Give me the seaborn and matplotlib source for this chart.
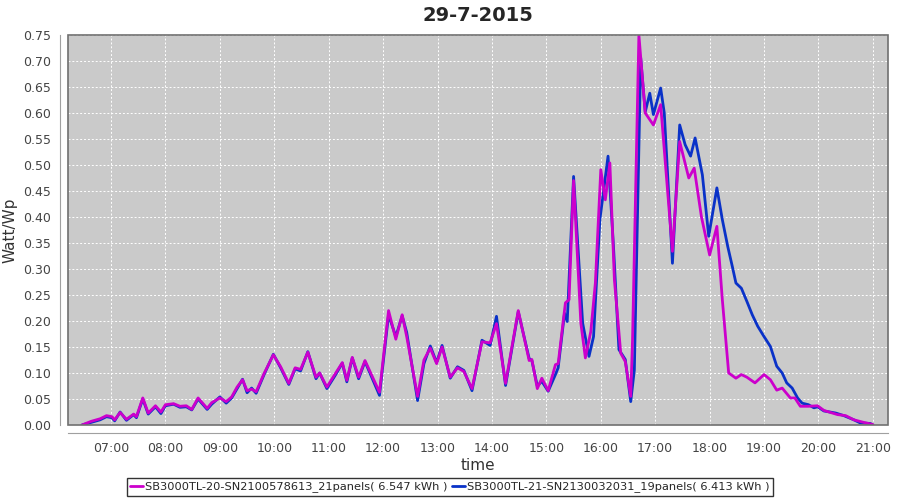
import numpy as np
import pandas as pd
import matplotlib
matplotlib.use("Agg")
import matplotlib.pyplot as plt
import matplotlib.dates as mdates
from matplotlib.patches import Rectangle
import seaborn as sns

day = "2015-07-29"
title = "29-7-2015"
name_20 = "SB3000TL-20-SN2100578613_21panels( 6.547 kWh )"
name_21 = "SB3000TL-21-SN2130032031_19panels( 6.413 kWh )"

# SB3000TL-20 (magenta)
times_20 = ["06:28", "06:38", "06:48", "06:55", "07:01", "07:04", "07:10", "07:17", "07:25", "07:28",
            "07:35", "07:41", "07:49", "07:55", "08:00", "08:09", "08:16", "08:23", "08:29", "08:36",
            "08:46", "08:51", "09:00", "09:07", "09:13", "09:19", "09:25", "09:30", "09:35", "09:40",
            "09:49", "09:59", "10:07", "10:16", "10:23", "10:29", "10:37", "10:46", "10:50", "10:58",
            "11:07", "11:15", "11:20", "11:26", "11:33", "11:40", "11:56", "12:06", "12:14", "12:21",
            "12:26", "12:38", "12:45", "12:52", "12:59", "13:05", "13:14", "13:22", "13:29", "13:38",
            "13:49", "13:58", "14:05", "14:15", "14:29", "14:41", "14:44", "14:50", "14:55", "15:02",
            "15:10", "15:13", "15:21", "15:25", "15:30", "15:38", "15:43", "15:49", "15:54", "16:00",
            "16:05", "16:10", "16:15", "16:22", "16:27", "16:33", "16:35", "16:42", "16:49", "16:58",
            "17:06", "17:19", "17:27", "17:37", "17:43", "17:51", "18:00", "18:08", "18:14", "18:21",
            "18:29", "18:35", "18:41", "18:50", "19:00", "19:07", "19:14", "19:20", "19:29", "19:34",
            "19:40", "19:49", "19:59", "20:06", "20:21", "20:30", "20:39", "20:50", "21:00"]
values_20 = [0.000, 0.007, 0.012, 0.018, 0.016, 0.010, 0.024, 0.011, 0.021, 0.016,
             0.052, 0.023, 0.037, 0.025, 0.039, 0.041, 0.036, 0.037, 0.030, 0.052,
             0.032, 0.043, 0.052, 0.045, 0.054, 0.073, 0.087, 0.066, 0.069, 0.064,
             0.100, 0.135, 0.112, 0.080, 0.110, 0.107, 0.140, 0.092, 0.100, 0.073,
             0.098, 0.120, 0.086, 0.130, 0.092, 0.124, 0.063, 0.220, 0.165, 0.212,
             0.170, 0.055, 0.125, 0.148, 0.118, 0.150, 0.092, 0.110, 0.103, 0.070,
             0.160, 0.158, 0.195, 0.080, 0.220, 0.124, 0.126, 0.070, 0.090, 0.066,
             0.116, 0.118, 0.235, 0.241, 0.470, 0.196, 0.129, 0.180, 0.273, 0.491,
             0.433, 0.504, 0.279, 0.138, 0.122, 0.055, 0.164, 0.750, 0.600, 0.577,
             0.616, 0.334, 0.545, 0.475, 0.494, 0.400, 0.327, 0.382, 0.241, 0.100,
             0.090, 0.097, 0.092, 0.081, 0.097, 0.087, 0.067, 0.071, 0.052, 0.052,
             0.036, 0.036, 0.037, 0.028, 0.020, 0.018, 0.010, 0.005, 0.001]

# SB3000TL-21 (blue)
times_21 = ["06:28", "06:38", "06:48", "06:55", "07:01", "07:04", "07:10", "07:17", "07:25", "07:28",
            "07:35", "07:41", "07:49", "07:55", "08:00", "08:09", "08:16", "08:23", "08:29", "08:36",
            "08:46", "08:51", "09:00", "09:07", "09:13", "09:19", "09:25", "09:30", "09:35", "09:40",
            "09:49", "09:59", "10:07", "10:16", "10:23", "10:29", "10:37", "10:46", "10:50", "10:58",
            "11:07", "11:15", "11:20", "11:26", "11:33", "11:40", "11:56", "12:06", "12:14", "12:21",
            "12:26", "12:38", "12:45", "12:52", "12:59", "13:05", "13:14", "13:22", "13:29", "13:38",
            "13:49", "13:58", "14:05", "14:15", "14:29", "14:41", "14:44", "14:50", "14:55", "15:02",
            "15:10", "15:13", "15:20", "15:23", "15:30", "15:40", "15:47", "15:52", "15:59", "16:08",
            "16:14", "16:20", "16:27", "16:33", "16:37", "16:44", "16:49", "16:54", "16:58", "17:06",
            "17:10", "17:19", "17:27", "17:33", "17:39", "17:44", "17:52", "17:59", "18:08", "18:14",
            "18:20", "18:25", "18:29", "18:35", "18:41", "18:47", "18:53", "19:00", "19:07", "19:14",
            "19:20", "19:25", "19:31", "19:37", "19:42", "19:49", "19:55", "19:59", "20:06", "20:19",
            "20:28", "20:39", "20:46", "20:57", "21:00"]
values_21 = [0.000, 0.005, 0.010, 0.016, 0.014, 0.008, 0.025, 0.009, 0.020, 0.014,
             0.050, 0.021, 0.035, 0.022, 0.037, 0.040, 0.034, 0.035, 0.029, 0.050,
             0.030, 0.040, 0.054, 0.042, 0.052, 0.070, 0.088, 0.062, 0.071, 0.061,
             0.098, 0.136, 0.110, 0.078, 0.108, 0.104, 0.141, 0.089, 0.100, 0.070,
             0.095, 0.119, 0.083, 0.129, 0.089, 0.122, 0.057, 0.212, 0.170, 0.210,
             0.178, 0.047, 0.118, 0.152, 0.120, 0.153, 0.090, 0.112, 0.105, 0.066,
             0.163, 0.153, 0.209, 0.076, 0.218, 0.128, 0.124, 0.075, 0.084, 0.065,
             0.097, 0.110, 0.215, 0.199, 0.478, 0.196, 0.132, 0.170, 0.395, 0.517,
             0.343, 0.145, 0.126, 0.045, 0.106, 0.706, 0.602, 0.638, 0.597, 0.648,
             0.600, 0.311, 0.577, 0.539, 0.517, 0.552, 0.481, 0.363, 0.456, 0.395,
             0.343, 0.305, 0.273, 0.263, 0.238, 0.212, 0.190, 0.170, 0.151, 0.113,
             0.100, 0.081, 0.071, 0.052, 0.042, 0.039, 0.033, 0.035, 0.027, 0.023,
             0.018, 0.010, 0.004, 0.003, 0.000]

df20 = pd.DataFrame({"time": pd.to_datetime([day + " " + t for t in times_20]), "val": values_20})
df21 = pd.DataFrame({"time": pd.to_datetime([day + " " + t for t in times_21]), "val": values_21})

sns.set_style("white")
plt.rcParams["font.family"] = ["DejaVu Sans"]

fig, ax = plt.subplots(figsize=(9, 5), dpi=100)
fig.subplots_adjust(left=0.076, right=0.987, top=0.93, bottom=0.15)
ax.set_facecolor("#CACACA")

sns.lineplot(data=df21, x="time", y="val", ax=ax, color="#0a32c8", lw=2, label=name_21, zorder=3)
sns.lineplot(data=df20, x="time", y="val", ax=ax, color="#cc00cc", lw=2, label=name_20, zorder=4)

ax.set_xlim(pd.Timestamp(day + " 06:13"), pd.Timestamp(day + " 21:17"))
ax.set_ylim(0, 0.75)
ax.set_yticks(np.arange(0, 0.751, 0.05))
ax.yaxis.set_major_formatter(matplotlib.ticker.FormatStrFormatter("%.2f"))
ax.xaxis.set_major_locator(mdates.HourLocator(byhour=range(7, 22)))
ax.xaxis.set_major_formatter(mdates.DateFormatter("%H:%M"))

ax.grid(True, color="white", ls=(0, (2, 2)), lw=0.7)
ax.set_axisbelow(True)
for s in ["top", "right"]:
    ax.spines[s].set_visible(False)
for s in ["left", "bottom"]:
    ax.spines[s].set_position(("outward", 6))
    ax.spines[s].set_color("#a0a0a0")
ax.add_patch(Rectangle((0, 0), 1, 1, transform=ax.transAxes, fill=False,
                       edgecolor="#707070", lw=1.2, clip_on=False, zorder=6))
ax.tick_params(axis="both", which="major", length=3, color="#a0a0a0",
               labelsize=9, labelcolor="#444444", direction="out")

ax.set_title(title, fontsize=14, fontweight="bold", pad=10)
ax.set_xlabel("time", fontsize=11, color="#333333", labelpad=2)
ax.set_ylabel("Watt/Wp", fontsize=11, color="#333333")

handles, labels = ax.get_legend_handles_labels()
ax.get_legend().remove()
fig.legend(handles[::-1], labels[::-1], loc="center", bbox_to_anchor=(0.5, 0.026), ncol=2,
           frameon=True, fancybox=False, edgecolor="black", fontsize=8.2,
           handlelength=1.1, columnspacing=0.4, handletextpad=0.2, borderpad=0.3)

plt.savefig("out.png", dpi=100)
